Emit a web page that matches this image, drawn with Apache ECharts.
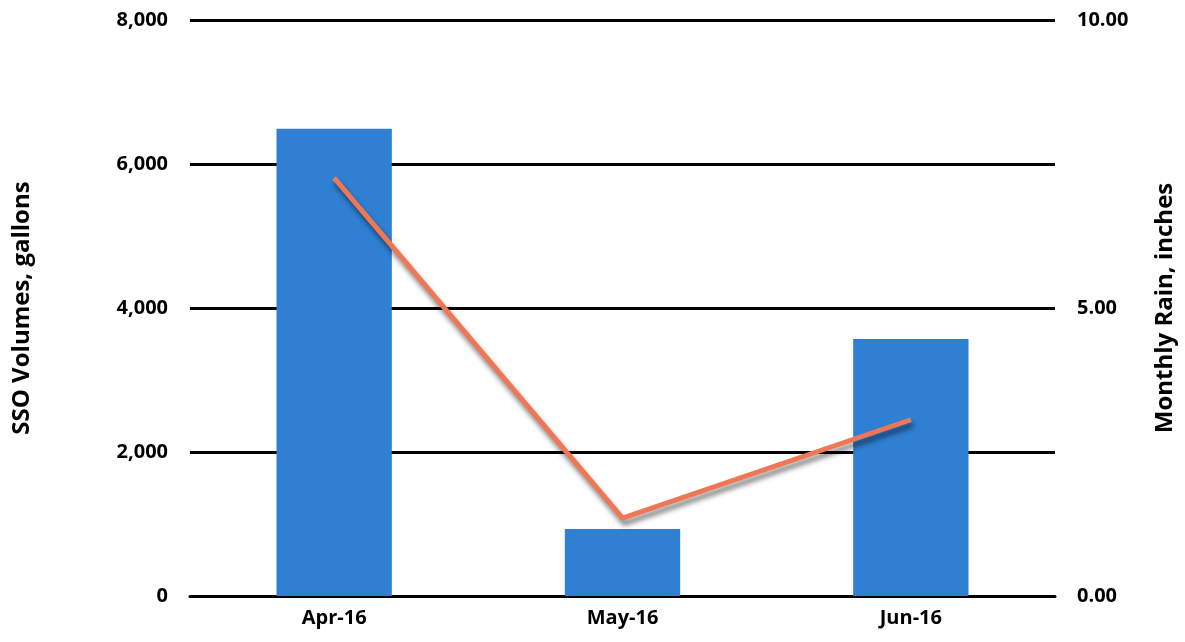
<!DOCTYPE html>
<html>
<head>
<meta charset="utf-8">
<script src="https://cdn.jsdelivr.net/npm/echarts@6/dist/echarts.min.js"></script>
<style>
html, body { margin: 0; padding: 0; background: #fff; }
#main { width: 1185px; height: 642px; }
</style>
</head>
<body>
<div id="main"></div>
<script>
var months = ['Apr-16', 'May-16', 'Jun-16'];
var ssoVolumes = [6490, 930, 3570];
var monthlyRain = [7.26, 1.35, 3.06];

var font = 'Open Sans';
var myChart = echarts.init(document.getElementById('main'));

var option = {
	backgroundColor: '#ffffff',
	grid: { left: 190, right: 130, top: 20, bottom: 46, outerBoundsMode: 'none' },
	xAxis: {
		type: 'category',
		data: months,
		axisLine: { lineStyle: { color: '#000', width: 3 } },
		axisTick: { show: false },
		axisLabel: { color: '#000', fontFamily: font, fontWeight: 'bold', fontSize: 20, margin: 12 }
	},
	yAxis: [{
		type: 'value',
		min: 0,
		max: 8000,
		interval: 2000,
		name: 'SSO Volumes, gallons',
		nameLocation: 'middle',
		nameRotate: 90,
		nameGap: 156,
		nameTextStyle: { color: '#000', fontFamily: font, fontWeight: 'bold', fontSize: 24 },
		axisLine: { show: false },
		axisTick: { show: false },
		splitLine: { lineStyle: { color: '#000', width: 3 } },
		axisLabel: {
			color: '#000', fontFamily: font, fontWeight: 'bold', fontSize: 20, margin: 22,
			formatter: function (v) { return v.toLocaleString('en-US'); }
		}
	}, {
		type: 'value',
		min: 0,
		max: 10,
		interval: 5,
		name: 'Monthly Rain, inches',
		nameLocation: 'middle',
		nameRotate: 90,
		nameGap: 98,
		nameTextStyle: { color: '#000', fontFamily: font, fontWeight: 'bold', fontSize: 24 },
		axisLine: { show: false },
		axisTick: { show: false },
		splitLine: { show: false },
		axisLabel: {
			color: '#000', fontFamily: font, fontWeight: 'bold', fontSize: 20, margin: 22,
			formatter: function (v) { return v.toFixed(2); }
		}
	}],
	series: [{
		name: 'SSO Volumes',
		type: 'bar',
		barWidth: '40%',
		itemStyle: { color: '#2f7fd2' },
		data: ssoVolumes
	}, {
		name: 'Monthly Rain',
		type: 'line',
		yAxisIndex: 1,
		symbol: 'none',
		lineStyle: {
			color: '#ee7755',
			width: 5,
			shadowColor: 'rgba(0,0,0,0.5)',
			shadowBlur: 5,
			shadowOffsetX: 2,
			shadowOffsetY: 5
		},
		data: monthlyRain
	}]
};
myChart.setOption(option);
</script>
</body>
</html>
